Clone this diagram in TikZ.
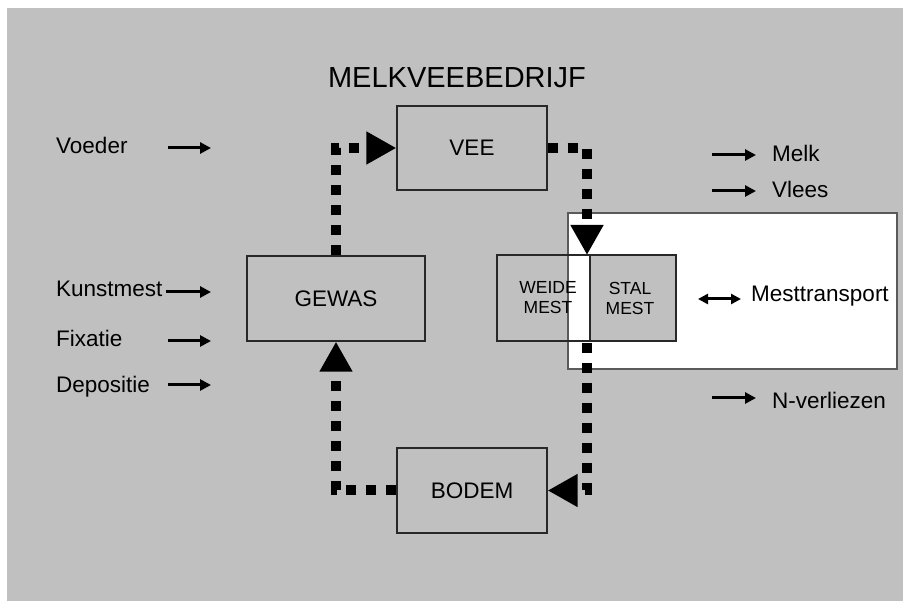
\documentclass[tikz,border=0pt]{standalone}
\usepackage{fontspec}
\setmainfont{Liberation Sans}
\usetikzlibrary{arrows.meta}
\definecolor{bggray}{RGB}{192,192,192}
\definecolor{edge}{RGB}{40,40,40}
\tikzset{
  box/.style={draw=edge, line width=1.3pt, fill=bggray, minimum width=#1, inner sep=0pt},
  lbl/.style={font=\fontsize{22.5}{26}\selectfont, inner sep=0pt, anchor=west},
  dotline/.style={line width=10pt, dash pattern=on 10pt off 10pt, line cap=butt, -{Triangle[length=30pt,width=31pt]}},
  smallarrow/.style={line width=3pt, -{Triangle[length=11pt,width=11pt]}},
  dblarrow/.style={line width=3pt, {Triangle[length=10pt,width=10pt]}-{Triangle[length=10pt,width=10pt]}},
}
\begin{document}
\begin{tikzpicture}[x=1pt,y=-1pt]
\useasboundingbox (0,0) rectangle (903,601);
\fill[bggray] (7,8) rectangle (903,601);
% title
\node[font=\fontsize{29}{32}\selectfont, inner sep=0pt] (title) at (457,77.5) {MELKVEEBEDRIJF};
% main boxes
\node[box=150pt, minimum height=84pt] (vee) at (472,148) {\fontsize{22.5}{26}\selectfont VEE};
\node[box=178pt, minimum height=85pt] (gewas) at (336,298.5) {\fontsize{22.5}{26}\selectfont GEWAS};
\node[box=150pt, minimum height=85pt] (bodem) at (472,490.5) {\fontsize{22.5}{26}\selectfont BODEM};
% weide / white rectangle / stal
\fill[bggray] (497,255) rectangle (590,341);
\node[draw={rgb,255:red,90;green,90;blue,90}, line width=1.3pt, fill=white, minimum width=329pt, minimum height=156pt, inner sep=0pt] (wit) at (732.5,291) {};
\node[draw=edge, line width=1.3pt, minimum width=93pt, minimum height=86pt, inner sep=0pt] (weide) at (543.5,298) {};
\node[box=86pt, minimum height=86pt] (stal) at (633,298) {};
\node[font=\fontsize{17.5}{20}\selectfont, align=center, inner sep=0pt] (weidetxt) at (548,298) {WEIDE\\MEST};
\node[font=\fontsize{17.5}{20}\selectfont, align=center, inner sep=0pt] (staltxt) at (630,298) {STAL\\MEST};
% dotted cycle
\draw[dotline] (gewas.north) |- (vee.west);
\coordinate (mestin) at (587,255);
\coordinate (mestout) at (587,343);
\draw[dotline] (vee.east) -| (mestin);
\draw[dotline] (mestout) |- (bodem.east);
\draw[dotline] (bodem.west) -| (gewas.south);
% left labels
\node[lbl] (voeder) at (56,145) {Voeder};
\node[lbl] (kunst) at (56,289) {Kunstmest};
\node[lbl] (fix) at (56,338) {Fixatie};
\node[lbl] (dep) at (56,387) {Depositie};
\coordinate (a1) at (168,148); \coordinate (b1) at (211,148);
\coordinate (a2) at (166,292); \coordinate (b2) at (211,292);
\coordinate (a3) at (168,341); \coordinate (b3) at (211,341);
\coordinate (a4) at (168,385); \coordinate (b4) at (211,385);
\draw[smallarrow] (a1) -- (b1);
\draw[smallarrow] (a2) -- (b2);
\draw[smallarrow] (a3) -- (b3);
\draw[smallarrow] (a4) -- (b4);
% right labels
\node[lbl] (melk) at (772,153) {Melk};
\node[lbl] (vlees) at (772,189) {Vlees};
\node[lbl] (mest) at (751,296) {Mesttransport};
\node[lbl] (nverl) at (772,400) {N-verliezen};
\coordinate (c1) at (712,155); \coordinate (d1) at (756,155);
\coordinate (c2) at (712,191); \coordinate (d2) at (756,191);
\coordinate (c3) at (698,299); \coordinate (d3) at (741,299);
\coordinate (c4) at (712,398); \coordinate (d4) at (756,398);
\draw[smallarrow] (c1) -- (d1);
\draw[smallarrow] (c2) -- (d2);
\draw[dblarrow] (c3) -- (d3);
\draw[smallarrow] (c4) -- (d4);
\end{tikzpicture}
\end{document}
